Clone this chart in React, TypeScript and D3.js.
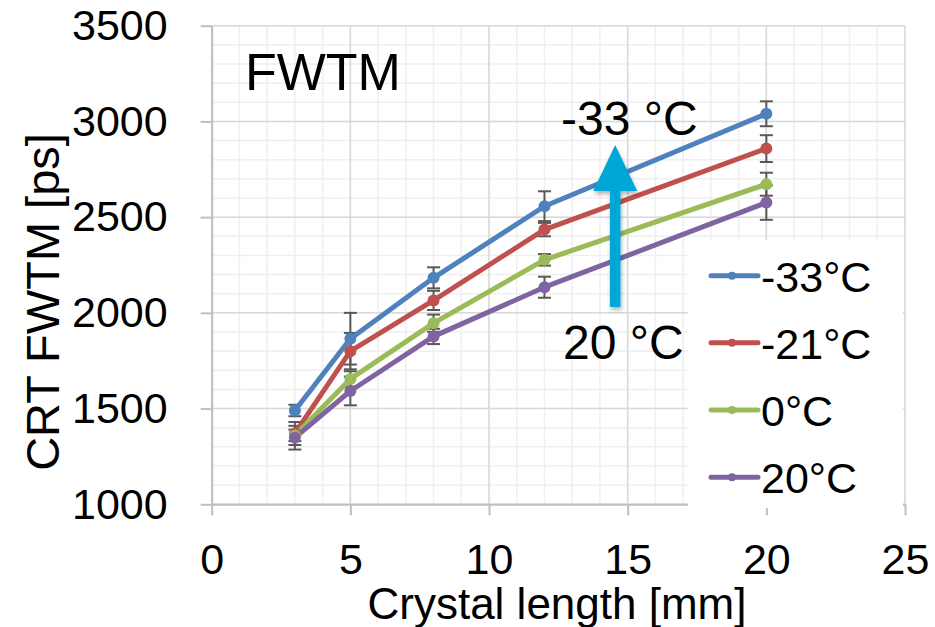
import React, { useRef, useEffect } from "react";
import * as d3 from "d3";

// crystal lengths [mm]
const crystalLength = [3, 5, 8, 12, 20];

// CRT FWTM [ps] per temperature, with error bars
const fwtmMinus33 = [1490, 1865, 2183, 2557, 3040];
const errMinus33 = [30, 135, 55, 78, 65];
const fwtmMinus21 = [1370, 1800, 2065, 2435, 2858];
const errMinus21 = [60, 95, 50, 35, 70];
const fwtmZero = [1360, 1655, 1946, 2277, 2672];
const errZero = [30, 40, 45, 30, 60];
const fwtmPlus20 = [1348, 1592, 1877, 2134, 2576];
const errPlus20 = [62, 75, 40, 55, 90];

const seriesNames = ["-33°C", "-21°C", "0°C", "20°C"];
const seriesColors = ["#4f81bd", "#c0504d", "#9bbb59", "#8064a2"];

const xTicks = [0, 5, 10, 15, 20, 25];
const yTicks = [1000, 1500, 2000, 2500, 3000, 3500];

// temperature arrow annotation (x in mm, y in ps)
const arrowX = 14.55;
const arrowTip = 2877;
const arrowBase = 2637;
const arrowEnd = 2031;

const FONT = "'Liberation Sans', Arial, Helvetica, sans-serif";

export default function App() {
  const series = [
    { name: seriesNames[0], values: fwtmMinus33, errors: errMinus33, color: seriesColors[0] },
    { name: seriesNames[1], values: fwtmMinus21, errors: errMinus21, color: seriesColors[1] },
    { name: seriesNames[2], values: fwtmZero, errors: errZero, color: seriesColors[2] },
    { name: seriesNames[3], values: fwtmPlus20, errors: errPlus20, color: seriesColors[3] },
  ];

  const x = d3.scaleLinear().domain([0, 25]).range([211.7, 905]);
  const y = d3.scaleLinear().domain([1000, 3500]).range([504.3, 25.7]);

  const line = d3
    .line<number>()
    .x((d, i) => x(crystalLength[i]))
    .y((d) => y(d));

  const gx = useRef<SVGGElement>(null);
  const gy = useRef<SVGGElement>(null);

  useEffect(() => {
    const xAxis = d3.axisBottom(x).tickValues(xTicks).tickSize(11).tickSizeOuter(0).tickPadding(28);
    const yAxis = d3
      .axisLeft(y)
      .tickValues(yTicks)
      .tickFormat(d3.format("d"))
      .tickSize(11)
      .tickSizeOuter(0)
      .tickPadding(33);

    const ax = d3.select(gx.current).call(xAxis);
    const ay = d3.select(gy.current).call(yAxis);

    [ax, ay].forEach((a) => {
      a.select(".domain").attr("stroke", "#bfbfbf").attr("stroke-width", 2);
      a.selectAll(".tick line").attr("stroke", "#bfbfbf").attr("stroke-width", 2);
      a.selectAll(".tick text")
        .attr("fill", "#000")
        .style("font-family", FONT)
        .style("font-size", "43px");
    });
  }, [x, y]);

  const minorX = d3.range(0, 26, 1);
  const minorY = d3.range(1000, 3501, 100);

  const legendY = [275.7, 342.7, 410, 477.3];

  const ax = x(arrowX);

  return (
    <svg
      width={935}
      height={627}
      style={{ position: "absolute", left: 0, top: 0, background: "#fff" }}
    >
      <defs>
        <filter id="shadow" x="-50%" y="-20%" width="200%" height="150%">
          <feDropShadow dx="1" dy="3" stdDeviation="2" floodColor="#000" floodOpacity="0.3" />
        </filter>
      </defs>

      {/* minor grid */}
      {minorX.map((v) => (
        <line key={"mx" + v} x1={x(v)} x2={x(v)} y1={y(3500)} y2={y(1000)} stroke="#efefef" strokeWidth={1.5} />
      ))}
      {minorY.map((v) => (
        <line key={"my" + v} x1={x(0)} x2={x(25)} y1={y(v)} y2={y(v)} stroke="#efefef" strokeWidth={1.5} />
      ))}
      {/* major grid */}
      {xTicks.map((v) => (
        <line key={"gx" + v} x1={x(v)} x2={x(v)} y1={y(3500)} y2={y(1000)} stroke="#d9d9d9" strokeWidth={1.5} />
      ))}
      {yTicks.map((v) => (
        <line key={"gy" + v} x1={x(0)} x2={x(25)} y1={y(v)} y2={y(v)} stroke="#d9d9d9" strokeWidth={1.5} />
      ))}

      <g ref={gx} transform={`translate(0, ${y(1000)})`} />
      <g ref={gy} transform={`translate(${x(0)}, 0)`} />

      {/* error bars */}
      {series.map((s) =>
        s.values.map((v, i) => {
          const cx = x(crystalLength[i]);
          const top = y(v + s.errors[i]);
          const bot = y(v - s.errors[i]);
          return (
            <g key={s.name + "e" + i} stroke="#595959" strokeWidth={2}>
              <line x1={cx} x2={cx} y1={top} y2={bot} />
              <line x1={cx - 6.5} x2={cx + 6.5} y1={top} y2={top} />
              <line x1={cx - 6.5} x2={cx + 6.5} y1={bot} y2={bot} />
            </g>
          );
        })
      )}

      {/* lines */}
      {series.map((s) => (
        <path key={s.name} d={line(s.values) || ""} fill="none" stroke={s.color} strokeWidth={5} strokeLinejoin="round" />
      ))}
      {series.map((s) =>
        s.values.map((v, i) => (
          <circle key={s.name + "m" + i} cx={x(crystalLength[i])} cy={y(v)} r={6} fill={s.color} />
        ))
      )}

      {/* arrow */}
      <g filter="url(#shadow)" fill="#05a6d6">
        <rect x={ax - 5.3} y={y(arrowBase)} width={10.6} height={y(arrowEnd) - y(arrowBase)} />
        <polygon points={`${ax},${y(arrowTip)} ${ax - 22},${y(arrowBase)} ${ax + 22},${y(arrowBase)}`} />
      </g>

      <text x={245} y={90} fontFamily={FONT} fontSize={52}>FWTM</text>
      <text x={561} y={135} fontFamily={FONT} fontSize={48}>-33 °C</text>
      <text x={563} y={359} fontFamily={FONT} fontSize={48}>20 °C</text>

      <text
        transform={`translate(43, ${302}) rotate(-90)`}
        textAnchor="middle"
        dy="0.35em"
        fontFamily={FONT}
        fontSize={47}
      >
        CRT FWTM [ps]
      </text>
      <text x={557} y={619} textAnchor="middle" fontFamily={FONT} fontSize={44}>
        Crystal length [mm]
      </text>

      {/* legend */}
      <rect x={688} y={240} width={215} height={268} fill="#fff" />
      {series.map((s, i) => (
        <g key={"lg" + s.name}>
          <line x1={711} x2={758} y1={legendY[i]} y2={legendY[i]} stroke={s.color} strokeWidth={5} strokeLinecap="round" />
          <circle cx={732} cy={legendY[i]} r={4} fill={s.color} />
          <text x={761} y={legendY[i]} dy="0.37em" fontFamily={FONT} fontSize={43}>
            {s.name}
          </text>
        </g>
      ))}
    </svg>
  );
}
